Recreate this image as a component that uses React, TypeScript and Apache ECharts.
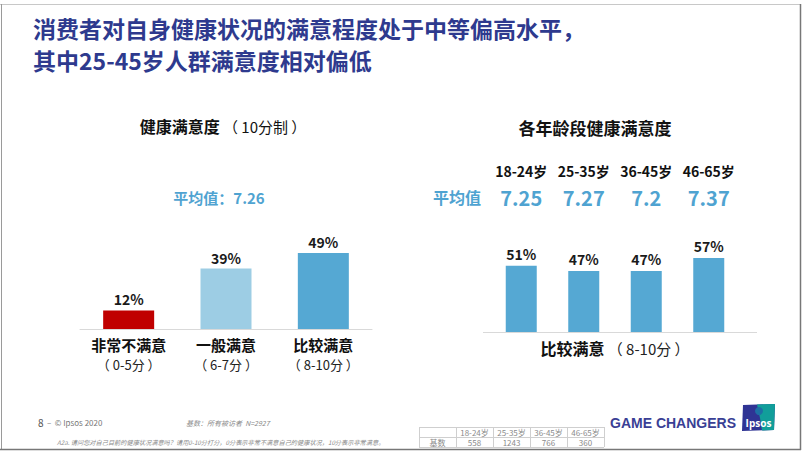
import React, { useEffect, useRef } from "react";
import * as echarts from "echarts";

const titleLines = ["消费者对自身健康状况的满意程度处于中等偏高水平，", "其中25-45岁人群满意度相对偏低"];

const leftCategories = ["非常不满意", "一般满意", "比较满意"];
const leftRanges = ["（ 0-5分 ）", "（ 6-7分 ）", "（ 8-10分 ）"];
const leftValues = [12, 39, 49];
const leftAverage = 7.26;

const ageGroups = ["18-24岁", "25-35岁", "36-45岁", "46-65岁"];
const ageAverages = [7.25, 7.27, 7.2, 7.37];
const ageValues = [51, 47, 47, 57];
const baseCounts = [558, 1243, 766, 360];
const totalBase = 2927;

const FONT = "'Noto Sans CJK SC', 'Noto Sans', sans-serif";
const BLUE_T = "#2e3a8e";
const AVG = "#4fa3d1";
const BAR_RED = "#c00000";
const BAR_LIGHT = "#9dcde4";
const BAR_MID = "#55a8d3";

export default function App() {
  const ref = useRef<HTMLDivElement>(null);
  useEffect(() => {
    if (!ref.current) return;
    const chart = echarts.init(ref.current, undefined, { renderer: "svg" });
    const leftColors = [BAR_RED, BAR_LIGHT, BAR_MID];

    const tableX = [419, 456, 493, 530, 567, 604];
    const tableY = [427, 437, 447];
    const tableGraphics: any[] = [];
    tableY.forEach((y) =>
      tableGraphics.push({ type: "line", shape: { x1: 419, y1: y + 0.5, x2: 604, y2: y + 0.5 }, style: { stroke: "#cfcfcf", lineWidth: 1 } })
    );
    tableX.forEach((x) =>
      tableGraphics.push({ type: "line", shape: { x1: x + 0.5, y1: 427, x2: x + 0.5, y2: 447 }, style: { stroke: "#cfcfcf", lineWidth: 1 } })
    );
    ageGroups.forEach((g, i) => {
      const cx = (tableX[i + 1] + tableX[i + 2]) / 2;
      tableGraphics.push({ type: "text", x: cx, y: 432, style: { text: g, fill: "#8a8a8a", font: `8px ${FONT}`, align: "center", verticalAlign: "middle" } });
      tableGraphics.push({ type: "text", x: cx, y: 442, style: { text: String(baseCounts[i]), fill: "#8a8a8a", font: `8px ${FONT}`, align: "center", verticalAlign: "middle" } });
    });
    tableGraphics.push({ type: "text", x: 437.5, y: 442, style: { text: "基数", fill: "#8a8a8a", font: `8px ${FONT}`, align: "center", verticalAlign: "middle" } });

    chart.setOption({
      animation: false,
      backgroundColor: "#ffffff",
      textStyle: { fontFamily: FONT },
      grid: [
        { left: 80, width: 292, top: 174, bottom: 122 },
        { left: 490, width: 250, top: 228, bottom: 119 },
      ],
      xAxis: [
        {
          gridIndex: 0,
          type: "category",
          data: leftCategories,
          axisLine: { lineStyle: { color: "#d9d9d9", width: 1 } },
          axisTick: { show: false },
          axisLabel: { interval: 0, margin: 8, fontSize: 15, fontWeight: "bold", color: "#111", fontFamily: FONT },
        },
        {
          gridIndex: 1,
          type: "category",
          data: ageGroups,
          axisLine: { show: false },
          axisTick: { show: false },
          axisLabel: { show: false },
        },
        {
          gridIndex: 1,
          type: "category",
          position: "top",
          data: ageGroups,
          axisLine: { show: false },
          axisTick: { show: false },
          axisLabel: {
            interval: 0,
            margin: 18,
            formatter: (v: string, i: number) => `{a|${v}}\n{b|${ageAverages[i]}}`,
            rich: {
              a: { fontSize: 14, fontWeight: "bold", color: "#111", lineHeight: 26, fontFamily: FONT },
              b: { fontSize: 20, fontWeight: "bold", color: AVG, lineHeight: 26, fontFamily: FONT },
            },
          },
        },
        {
          gridIndex: 0,
          type: "category",
          position: "bottom",
          offset: 20,
          data: leftRanges,
          axisLine: { show: false },
          axisTick: { show: false },
          axisLabel: { interval: 0, margin: 9, fontSize: 13, color: "#222", fontFamily: FONT },
        },
      ],
      yAxis: [
        { gridIndex: 0, type: "value", min: 0, max: 100, show: false },
        { gridIndex: 1, type: "value", min: 0, max: 80, show: false },
      ],
      series: [
        {
          type: "bar",
          xAxisIndex: 0,
          yAxisIndex: 0,
          barWidth: 51,
          data: leftValues.map((v, i) => ({ value: v, itemStyle: { color: leftColors[i] } })),
          label: {
            show: true,
            position: "top",
            distance: 4,
            formatter: "{c}%",
            fontSize: 14,
            fontWeight: "bold",
            color: "#1a1a1a",
            fontFamily: FONT,
          },
        },
        {
          type: "bar",
          xAxisIndex: 1,
          yAxisIndex: 1,
          barWidth: 31,
          data: ageValues,
          itemStyle: { color: BAR_MID },
          label: {
            show: true,
            position: "top",
            distance: 5,
            formatter: "{c}%",
            fontSize: 14,
            fontWeight: "bold",
            color: "#1a1a1a",
            fontFamily: FONT,
          },
        },
      ],
      graphic: [
        // slide border
        { type: "line", shape: { x1: 0, y1: 4.5, x2: 801, y2: 4.5 }, style: { stroke: "#c8c8c8", lineWidth: 1 } },
        { type: "line", shape: { x1: 1.5, y1: 4, x2: 1.5, y2: 450 }, style: { stroke: "#9a9a9a", lineWidth: 1 } },
        { type: "line", shape: { x1: 800.5, y1: 4, x2: 800.5, y2: 450 }, style: { stroke: "#777", lineWidth: 1.5 } },
        { type: "line", shape: { x1: 0, y1: 449.5, x2: 801, y2: 449.5 }, style: { stroke: "#777", lineWidth: 1.5 } },
        // titles
        { type: "text", x: 33, y: 28, style: { text: titleLines[0], fill: BLUE_T, font: `bold 23px ${FONT}`, verticalAlign: "middle" } },
        { type: "text", x: 33, y: 60, style: { text: titleLines[1], fill: BLUE_T, font: `bold 23px ${FONT}`, verticalAlign: "middle" } },
        {
          type: "text",
          x: 223,
          y: 126,
          style: {
            text: "{a|健康满意度} {b|（ 10分制 ）}",
            align: "center",
            verticalAlign: "middle",
            rich: {
              a: { fontSize: 16, fontWeight: "bold", fill: "#111", fontFamily: FONT },
              b: { fontSize: 15, fill: "#111", fontFamily: FONT },
            },
          },
        },
        { type: "text", x: 219, y: 197, style: { text: `平均值：${leftAverage}`, fill: AVG, font: `bold 15px ${FONT}`, align: "center", verticalAlign: "middle" } },
        { type: "text", x: 595, y: 127, style: { text: "各年龄段健康满意度", fill: "#111", font: `bold 17px ${FONT}`, align: "center", verticalAlign: "middle" } },
        { type: "text", x: 457, y: 197, style: { text: "平均值", fill: AVG, font: `bold 16px ${FONT}`, align: "center", verticalAlign: "middle" } },
        { type: "line", shape: { x1: 483, y1: 332.5, x2: 757, y2: 332.5 }, style: { stroke: "#d9d9d9", lineWidth: 1 } },
        {
          type: "text",
          x: 615,
          y: 348,
          style: {
            text: "{a|比较满意} {b|（ 8-10分 ）}",
            align: "center",
            verticalAlign: "middle",
            rich: {
              a: { fontSize: 16, fontWeight: "bold", fill: "#111", fontFamily: FONT },
              b: { fontSize: 15, fill: "#222", fontFamily: FONT },
            },
          },
        },
        // footer
        {
          type: "text",
          x: 38,
          y: 422,
          style: {
            text: "{a|8} {b|–  © Ipsos 2020}",
            verticalAlign: "middle",
            rich: {
              a: { fontSize: 10, fill: "#555", fontFamily: FONT },
              b: { fontSize: 8, fill: "#777", fontFamily: FONT },
            },
          },
        },
        { type: "text", x: 186, y: 423, style: { text: `基数：所有被访者  N=${totalBase}`, fill: "#8a8a8a", font: `italic 7px ${FONT}`, verticalAlign: "middle" } },
        {
          type: "text",
          x: 57,
          y: 442,
          style: {
            text: "A2a. 请问您对自己目前的健康状况满意吗？请用0-10分打分，0分表示非常不满意自己的健康状况，10分表示非常满意。",
            fill: "#8a8a8a",
            font: `italic 6.2px ${FONT}`,
            verticalAlign: "middle",
          },
        },
        ...tableGraphics,
        { type: "text", x: 673, y: 423, style: { text: "GAME CHANGERS", fill: "#3a3f95", font: "bold 14px 'Liberation Sans', Arial, sans-serif", align: "center", verticalAlign: "middle" } },
        // logo
        { type: "polygon", shape: { points: [[743, 405], [775, 404], [774, 430], [742, 431]] }, style: { fill: "#2f3494" } },
        { type: "polygon", shape: { points: [[757, 404.5], [775, 404], [774, 430], [762, 430.5], [760, 418]] }, style: { fill: "#119e9a" } },
        { type: "circle", shape: { cx: 759, cy: 411, r: 4 }, style: { fill: "#1d6fa5" } },
        { type: "text", x: 758.5, y: 423, style: { text: "Ipsos", fill: "#ffffff", font: `bold 10px 'Open Sans', sans-serif`, align: "center", verticalAlign: "middle" } },
      ],
    });
    return () => chart.dispose();
  }, []);
  return <div ref={ref} style={{ position: "fixed", left: 0, top: 0, width: 802, height: 451 }} />;
}
